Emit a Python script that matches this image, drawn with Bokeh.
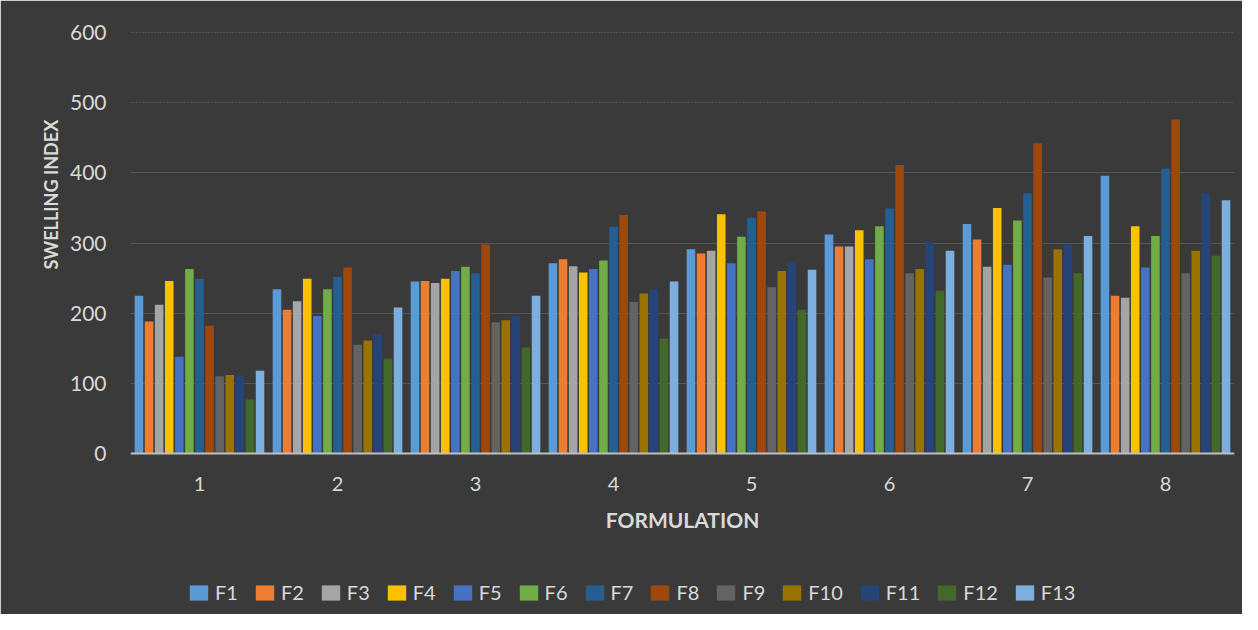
from bokeh.plotting import figure
from bokeh.models import ColumnDataSource, FixedTicker, Grid, Legend, LegendItem, Range1d, Title
from bokeh.embed import file_html
from bokeh.resources import INLINE

formulations = [1, 2, 3, 4, 5, 6, 7, 8]
series_names = ["F1", "F2", "F3", "F4", "F5", "F6", "F7", "F8", "F9", "F10", "F11", "F12", "F13"]
y_ticks = [0, 100, 200, 300, 400, 500, 600]
solid_grid = [100, 200, 300, 400]
dotted_grid = [500, 600]

F1 = [225, 234, 245, 271, 291, 312, 327, 396]
F2 = [188, 205, 246, 277, 285, 295, 305, 225]
F3 = [212, 217, 243, 267, 289, 295, 266, 222]
F4 = [246, 249, 249, 258, 341, 318, 350, 324]
F5 = [138, 196, 260, 263, 271, 277, 269, 265]
F6 = [263, 234, 266, 275, 309, 324, 332, 310]
F7 = [249, 252, 257, 323, 336, 349, 371, 406]
F8 = [182, 265, 298, 340, 345, 411, 442, 476]
F9 = [110, 155, 187, 216, 237, 257, 251, 257]
F10 = [112, 161, 190, 228, 260, 263, 291, 289]
F11 = [110, 170, 196, 234, 271, 301, 298, 371]
F12 = [77, 135, 151, 164, 205, 232, 257, 282]
F13 = [118, 208, 225, 245, 262, 289, 310, 361]

series_values = [F1, F2, F3, F4, F5, F6, F7, F8, F9, F10, F11, F12, F13]

colors = ["#5B9BD5", "#ED7D31", "#A5A5A5", "#FFC000", "#4472C4", "#70AD47",
          "#255E91", "#9E480E", "#636363", "#997300", "#264478", "#43682B", "#7CAFDD"]

FONT = "Lato"
TEXT = "#d9d9d9"
BG = "#3a3a3a"

# frame extends to the bottom of the figure so the legend can sit inside it;
# the value axis still spans 0..600 between the top and the category axis
p = figure(width=1242, height=614, output_backend="svg", toolbar_location=None,
           x_range=Range1d(0.5, 8.5), y_range=Range1d(-229.45, 605.7),
           min_border_left=130, min_border_right=8, min_border_top=28, min_border_bottom=0)

p.background_fill_color = BG
p.border_fill_color = BG
p.outline_line_color = BG
p.outline_line_width = 3

step = 0.0731
bar_w = 0.062
items = []
for i, (name, vals, col) in enumerate(zip(series_names, series_values, colors)):
    off = (i - 6) * step
    src = ColumnDataSource(dict(x=[f + off for f in formulations], top=vals))
    r = p.vbar(x="x", top="top", width=bar_w, source=src, fill_color=col, line_color=None)
    items.append(LegendItem(label=name, renderers=[r]))

# axes
p.xaxis.ticker = FixedTicker(ticks=formulations)
p.xaxis.fixed_location = 0
p.xaxis.axis_label = "FORMULATION"
p.yaxis.ticker = FixedTicker(ticks=y_ticks)
for ax in (p.xaxis[0], p.yaxis[0]):
    ax.major_tick_line_color = None
    ax.minor_tick_line_color = None
    ax.major_label_text_color = TEXT
    ax.major_label_text_font = FONT
    ax.major_label_text_font_size = "20px"
    ax.axis_label_text_color = TEXT
    ax.axis_label_text_font = FONT
    ax.axis_label_text_font_style = "bold"
    ax.axis_label_text_font_size = "21px"
p.yaxis.major_label_text_font_size = "21px"
p.yaxis.axis_line_color = None
p.yaxis.major_label_standoff = 18
p.xaxis.axis_line_color = "#bfbfbf"
p.xaxis.axis_line_width = 2
p.xaxis.major_label_standoff = 17
p.xaxis.axis_label_standoff = 13

ytitle = Title(text="SWELLING INDEX", align="left", offset=345, standoff=10,
               text_color=TEXT, text_font=FONT, text_font_style="bold", text_font_size="18px")
p.add_layout(ytitle, "left")

p.xgrid.grid_line_color = None
p.ygrid.ticker = FixedTicker(ticks=solid_grid)
p.ygrid.grid_line_color = "#555555"
p.ygrid.grid_line_width = 1
top_grid = Grid(dimension=1, ticker=FixedTicker(ticks=dotted_grid),
                grid_line_color="#6a6a6a", grid_line_width=1, grid_line_dash="1 2")
p.add_layout(top_grid)

legend = Legend(items=items, orientation="horizontal", location=(57, 10),
                glyph_width=23, glyph_height=19, label_standoff=5, spacing=15,
                padding=0, margin=0, background_fill_alpha=0, border_line_color=None,
                label_text_color=TEXT, label_text_font=FONT, label_text_font_size="20px")
p.add_layout(legend, "center")

open("out.html", "w").write(file_html(p, INLINE))
